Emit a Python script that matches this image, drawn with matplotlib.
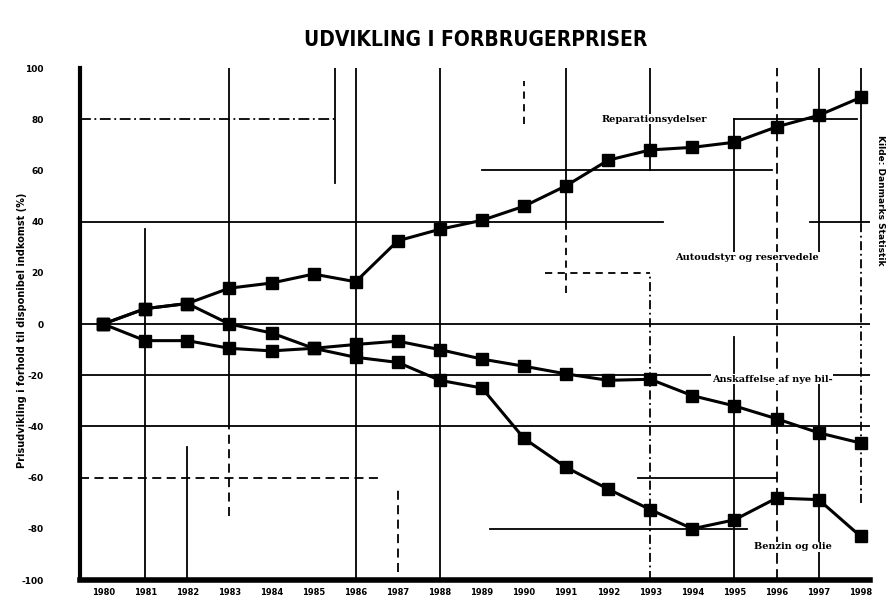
import matplotlib
matplotlib.use("Agg")
import matplotlib.pyplot as plt
import numpy as np

# --- data ---
years = list(range(1980, 1999))
reparation = [0, 6, 8, 14, 16, 19.5, 16.5, 32.5, 37, 40.5, 46, 54, 64, 68, 69, 71, 77, 81.5, 88.5]
biler = [0, -6.5, -6.5, -9.5, -10.5, -9.5, -8, -6.7, -10, -13.7, -16.5, -19.5, -22, -21.6, -28, -32, -37, -42.5, -46.5]
benzin = [0, 6, 8, 0, -3.5, -9.5, -13, -15, -22, -25, -44.7, -56, -64.5, -72.5, -80, -76.5, -68, -68.6, -83]

yticks = [100, 80, 60, 40, 20, 0, -20, -40, -60, -80, -100]
title = "UDVIKLING I FORBRUGERPRISER"
ylabel = "Prisudvikling i forhold til disponibel indkomst (%)"
labels = ["Reparationsydelser", "Autoudstyr og reservedele", "Anskaffelse af nye bil-", "Benzin og olie"]
label_pos = [(1993.1, 80), (1995.3, 26), (1995.9, -21.5), (1996.4, -87)]

fig = plt.figure(figsize=(8.9, 6.05), dpi=100)
ax = fig.add_axes([80 / 890, 1 - 580 / 605, 790 / 890, 512 / 605])
xmin, xmax = 1979.45, 1998.22
ax.set_xlim(xmin, xmax)
ax.set_ylim(-100, 100)

# broken scanned grid: horizontal pieces
hseg = [
    (80, xmin, 1985.5, (0, (6, 2, 1, 2))), (80, 1995.0, 1997.9, '-'),
    (60, 1989.0, 1995.9, '-'),
    (40, xmin, 1993.3, '-'), (40, 1996.8, xmax, '-'),
    (20, 1990.5, 1993.0, (0, (4, 3))),
    (0, xmin, xmax, '-'), (-20, xmin, xmax, '-'), (-40, xmin, xmax, '-'),
    (-60, xmin, 1986.6, (0, (5, 3))), (-60, 1992.7, 1996.0, '-'),
    (-80, 1989.2, 1995.3, '-'),
]
for y, x0, x1, ls in hseg:
    ax.plot([x0, x1], [y, y], color='black', lw=1.3, ls=ls, zorder=1)

# vertical pieces
vseg = [
    (1981, -100, 37, '-'), (1982, -100, -48, '-'),
    (1983, -40, 100, '-'), (1983, -75, -40, (0, (5, 3))),
    (1986, -100, 100, '-'), (1988, -100, 100, '-'),
    (1987, -97, -65, (0, (5, 3))), (1985.5, 55, 100, '-'),
    (1990, 78, 95, (0, (4, 3))), (1991, 40, 100, '-'), (1991, 12, 40, (0, (4, 3))),
    (1993, 60, 100, '-'), (1993, -100, 20, (0, (5, 2, 1, 2))),
    (1995, 25, 80, '-'), (1995, -100, -5, '-'),
    (1996, -100, 100, (0, (6, 3))), (1997, 25, 100, '-'), (1997, -100, -20, '-'),
    (1998, 40, 100, '-'), (1998, -70, 40, (0, (5, 2, 1, 2))),
]
for x, y0, y1, ls in vseg:
    ax.plot([x, x], [y0, y1], color='black', lw=1.3, ls=ls, zorder=1)

for s in (reparation, biler, benzin):
    ax.plot(years, s, color='black', lw=2.2, marker='s', markersize=8.5, zorder=3)

for t, (x, y) in zip(labels, label_pos):
    ax.text(x, y, t, ha='center', va='center', fontsize=7, fontweight='bold',
            family='DejaVu Serif', zorder=4,
            bbox=dict(facecolor='white', edgecolor='none', pad=0.5))

ax.set_xticks(years)
ax.set_xticklabels([str(y) for y in years], fontsize=6, fontweight='bold')
ax.set_yticks(yticks)
ax.set_yticklabels([str(y) for y in yticks], fontsize=6.5, fontweight='bold')
ax.tick_params(axis='both', length=0)
ax.tick_params(axis='y', pad=26)
ax.tick_params(axis='x', pad=6)

for side in ('top', 'right'):
    ax.spines[side].set_visible(False)
ax.spines['left'].set_linewidth(3)
ax.spines['bottom'].set_linewidth(4)

fig.text(22 / 890, 1 - 330 / 605, ylabel, rotation=90, ha='center', va='center',
         fontsize=7, fontweight='bold')
fig.text(476 / 890, 1 - 40 / 605, title, ha='center', va='center', fontsize=15,
         fontweight='bold', family=['Liberation Sans Narrow', 'DejaVu Sans'], fontstretch='condensed')
fig.text(880 / 890, 1 - 200 / 605, "Kilde: Danmarks Statistik", rotation=270, ha='center',
         va='center', fontsize=6.5, fontweight='bold')

fig.savefig("out.png", dpi=100)
